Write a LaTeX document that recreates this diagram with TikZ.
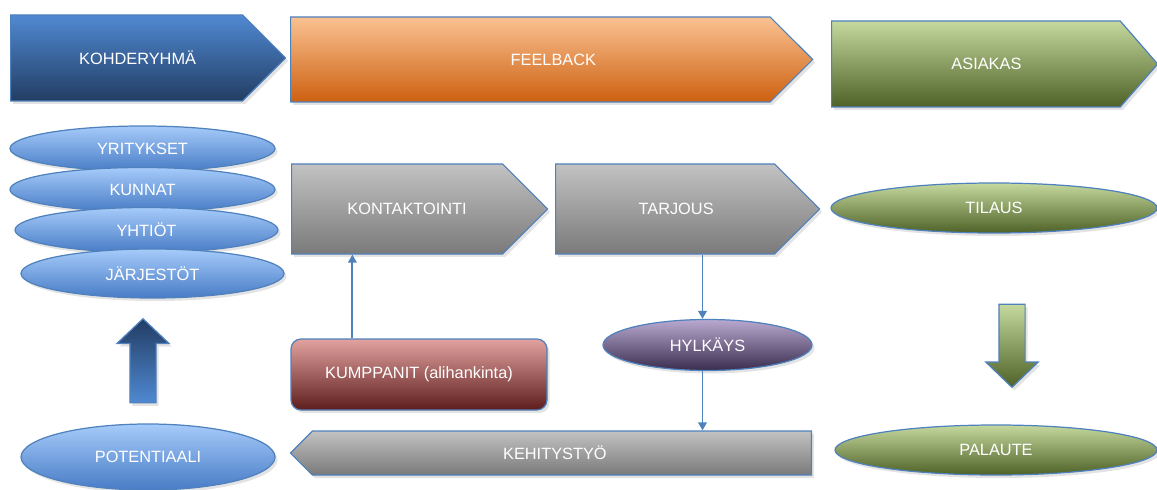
\documentclass[tikz,border=0pt]{standalone}
\usepackage{fontspec}
\setmainfont{Liberation Sans}
\usetikzlibrary{arrows.meta,calc,shapes.geometric,shapes.symbols,shapes.arrows,shadows}
\definecolor{fbline}{HTML}{4F81BD}
\definecolor{fbbluehi}{HTML}{5089D2}
\definecolor{fbbluelo}{HTML}{223D63}
\definecolor{fbskyhi}{HTML}{A6CBFA}
\definecolor{fbskylo}{HTML}{487CC6}
\definecolor{fborangehi}{HTML}{FAC292}
\definecolor{fborangelo}{HTML}{CD6010}
\definecolor{fbgreenhi}{HTML}{C5D99E}
\definecolor{fbgreenlo}{HTML}{4E6127}
\definecolor{fbgreyhi}{HTML}{C2C2C2}
\definecolor{fbgreylo}{HTML}{7A7A7A}
\definecolor{fbredhi}{HTML}{E1A2A0}
\definecolor{fbredlo}{HTML}{5C1D1C}
\definecolor{fbpurplehi}{HTML}{B9A9D0}
\definecolor{fbpurplelo}{HTML}{392D4E}
\tikzset{
  txt/.style={text=white, inner sep=0pt, font=\fontsize{9.3}{11}\selectfont},
  bx/.style={txt, draw=fbline, line width=0.7pt, align=center,
    drop shadow={shadow xshift=0.5mm, shadow yshift=-0.6mm, opacity=0.22}},
  chev/.style={bx, signal, signal to=east, signal pointer angle=90, anchor=west},
  back/.style={bx, signal, signal to=west, signal pointer angle=90, anchor=east},
  oval/.style={bx, ellipse},
  card/.style={bx, rectangle, rounded corners=2mm},
  blk/.style={bx, single arrow, single arrow head indent=0pt, single arrow head extend=2.6mm,
    inner sep=2.5mm, minimum width=10.1mm},
  blue/.style={top color=fbbluehi, bottom color=fbbluelo},
  sky/.style={top color=fbskyhi, bottom color=fbskylo},
  orange/.style={top color=fborangehi, bottom color=fborangelo},
  green/.style={top color=fbgreenhi, bottom color=fbgreenlo},
  grey/.style={top color=fbgreyhi, bottom color=fbgreylo},
  wine/.style={top color=fbredhi, bottom color=fbredlo},
  plum/.style={top color=fbpurplehi, bottom color=fbpurplelo},
  conn/.style={-{Triangle[length=1.6mm,width=1.7mm]}, line width=1.1pt, color=fbline},
}

\begin{document}
\begin{tikzpicture}[x=0.2mm, y=-0.2mm]
    \useasboundingbox (0,0) rectangle (1157,490);
    % top row
    \node[chev, blue, minimum width=55mm, minimum height=17.2mm,
      label={[txt, xshift=2.2mm]center:KOHDERYHMÄ}] (koh) at (10,58) {};
    \node[chev, orange, minimum width=104.4mm, minimum height=17mm,
      label={[txt, xshift=4.6mm]center:FEELBACK}] (feel) at (290,59.5) {};
    \node[chev, green, signal pointer angle=98, minimum width=65.2mm, minimum height=17.2mm,
      label={[txt, xshift=2.1mm]center:ASIAKAS}] (asi) at (831,64) {};
    % target groups
    \node[oval, sky, minimum width=53mm, minimum height=9mm] (yri) at (142.5,148.5) {YRITYKSET};
    \node[oval, sky, minimum width=53mm, minimum height=8.8mm] (kun) at (142.5,189.5) {KUNNAT};
    \node[oval, sky, minimum width=52.6mm, minimum height=9mm] (yht) at (146.5,230) {YHTIÖT};
    \node[oval, sky, minimum width=52.6mm, minimum height=9.8mm] (jar) at (152.5,273.5) {JÄRJESTÖT};
    % process
    \node[chev, grey, minimum width=51.2mm, minimum height=18mm,
      label={[txt, xshift=2mm]center:KONTAKTOINTI}] (kon) at (291,209) {};
    \node[chev, grey, minimum width=52.8mm, minimum height=18mm,
      label={[txt, xshift=2.2mm]center:TARJOUS}] (tar) at (555,209) {};
    \node[oval, green, minimum width=65.2mm, minimum height=10mm] (til) at (994,208) {TILAUS};
    \node[card, wine, minimum width=51.2mm, minimum height=14.2mm] (kum) at (419,374.5) {KUMPPANIT (alihankinta)};
    \node[oval, plum, minimum width=41.8mm, minimum height=10.2mm] (hyl) at (707.5,345) {HYLKÄYS};
    % bottom row
    \node[oval, sky, minimum width=50.8mm, minimum height=13.2mm] (pot) at (148,457) {POTENTIAALI};
    \node[back, grey, minimum width=104.2mm, minimum height=8.8mm,
      label={[txt, xshift=-1.4mm]center:KEHITYSTYÖ}] (keh) at (812,453) {};
    \node[oval, green, minimum width=64.4mm, minimum height=10mm] (pal) at (996,450) {PALAUTE};
    % block arrows
    \node[blk, top color=fbbluelo, bottom color=fbbluehi, shape border rotate=90, single arrow tip angle=93,
      minimum height=16.8mm] (up) at (143,367) {};
    \node[blk, green, shape border rotate=270, single arrow tip angle=92,
      minimum height=16.6mm] (down) at (1012,339.5) {};
    % connectors
    \coordinate (kx) at ($(kum.north west)+(62,0)$);
    \draw[conn] (kx) -- (kx |- kon.south);
    \draw[conn] ([xshift=-1mm]hyl.north |- tar.south) -- ([xshift=-1mm]hyl.north);
    \draw[conn] ([xshift=-1mm]hyl.south) -- ([xshift=-1mm]hyl.south |- keh.north);
\end{tikzpicture}
\end{document}
